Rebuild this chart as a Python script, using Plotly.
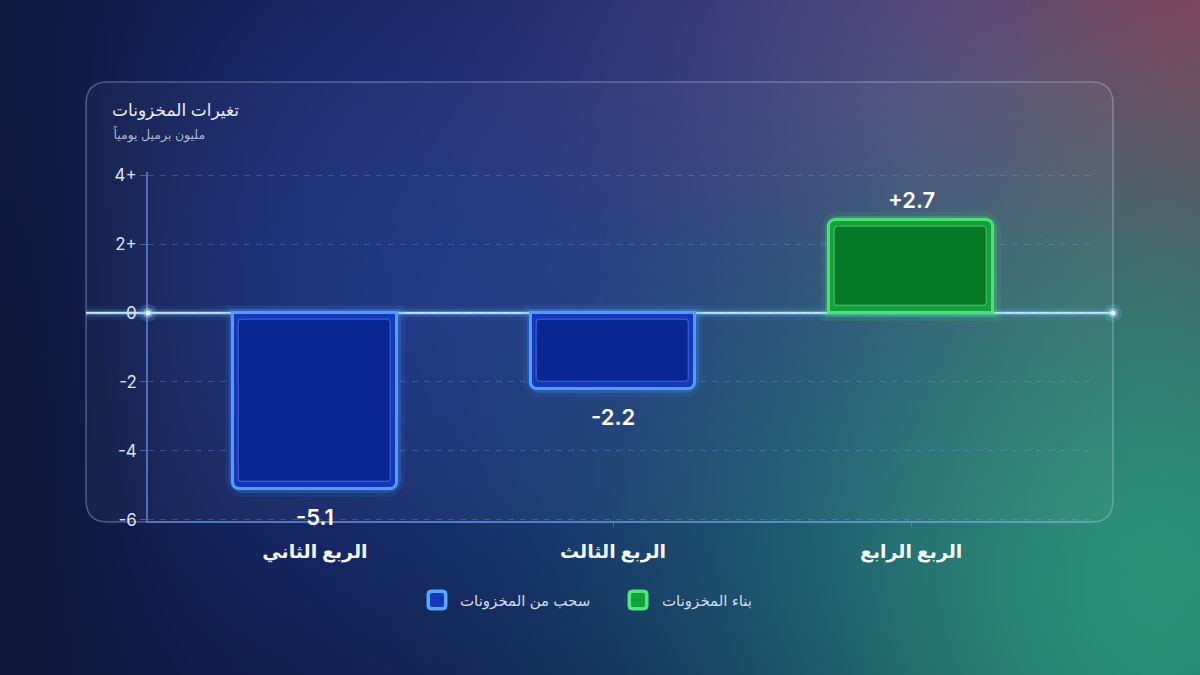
import base64
import struct
import zlib

import numpy as np
import plotly.graph_objects as go

# ---------------- data ----------------
quarters = ["الربع الثاني", "الربع الثالث", "الربع الرابع"]
changes = [-5.1, -2.2, 2.7]
y_tick_values = [-6, -4, -2, 0, 2, 4]
y_tick_labels = ["-6", "-4", "-2", "0", "2+", "4+"]
legend_labels = ["سحب من المخزونات", "بناء المخزونات"]
chart_title = "تغيرات المخزونات"
chart_subtitle = "مليون برميل يومياً"

# ---------------- styling ----------------
W_PX, H_PX = 1200, 675
FONT = "Inter, DejaVu Sans, sans-serif"
BLUE_FILL, BLUE_EDGE, BLUE_INNER = "#1437bd", "#4f9dff", "#0a2594"
GREEN_FILL, GREEN_EDGE, GREEN_INNER = "#14a03c", "#46e66e", "#077a28"
Y_RANGE = [-6.04, 4.09]
PLOT_TOP, PLOT_BOTTOM = 172, 521
PX_PER_UNIT = (PLOT_BOTTOM - PLOT_TOP) / (Y_RANGE[1] - Y_RANGE[0])


def px_x(x):
    return x / W_PX


def px_y(y):
    return 1 - y / H_PX


# ---------------- background gradient (decorative) ----------------
def make_background():
    w, h = 320, 180
    u = np.linspace(0, 1, w)[None, :]
    v = np.linspace(0, 1, h)[:, None]
    img = np.zeros((h, w, 3)) + np.array([15, 24, 58], float)

    def blob(img, cx, cy, sx, sy, color, strength):
        a = strength * np.exp(-(((u - cx) / sx) ** 2 + ((v - cy) / sy) ** 2) / 2)
        return img * (1 - a[..., None]) + np.array(color, float) * a[..., None]

    img = blob(img, 0.42, 0.42, 0.30, 0.40, (26, 50, 140), 0.9)
    img = blob(img, 0.60, 0.08, 0.20, 0.22, (40, 50, 118), 0.6)
    img = blob(img, 0.82, 0.02, 0.20, 0.35, (96, 72, 140), 0.8)
    img = blob(img, 1.02, 0.00, 0.14, 0.40, (148, 50, 84), 0.9)
    img = blob(img, 0.72, 0.80, 0.20, 0.28, (24, 80, 112), 0.6)
    img = blob(img, 0.97, 0.88, 0.22, 0.50, (46, 156, 124), 0.9)
    img = blob(img, 0.00, 0.60, 0.08, 0.60, (12, 22, 50), 0.8)
    img = np.clip(img, 0, 255).astype(np.uint8)

    raw = b"".join(b"\x00" + row.tobytes() for row in img)

    def chunk(tag, data):
        c = struct.pack(">I", len(data)) + tag + data
        return c + struct.pack(">I", zlib.crc32(tag + data) & 0xFFFFFFFF)

    png = b"\x89PNG\r\n\x1a\n"
    png += chunk(b"IHDR", struct.pack(">IIBBBBB", w, h, 8, 2, 0, 0, 0))
    png += chunk(b"IDAT", zlib.compress(raw, 9))
    png += chunk(b"IEND", b"")
    return "data:image/png;base64," + base64.b64encode(png).decode()


def rounded_rect(x0, y0, x1, y1, r):
    X, Y = px_x, px_y
    return (
        f"M{X(x0 + r)},{Y(y0)} L{X(x1 - r)},{Y(y0)} Q{X(x1)},{Y(y0)} {X(x1)},{Y(y0 + r)} "
        f"L{X(x1)},{Y(y1 - r)} Q{X(x1)},{Y(y1)} {X(x1 - r)},{Y(y1)} "
        f"L{X(x0 + r)},{Y(y1)} Q{X(x0)},{Y(y1)} {X(x0)},{Y(y1 - r)} "
        f"L{X(x0)},{Y(y0 + r)} Q{X(x0)},{Y(y0)} {X(x0 + r)},{Y(y0)} Z"
    )


sign = [1 if v > 0 else -1 for v in changes]
fill_colors = [GREEN_FILL if v > 0 else BLUE_FILL for v in changes]
edge_colors = [GREEN_EDGE if v > 0 else BLUE_EDGE for v in changes]
inner_colors = [GREEN_INNER if v > 0 else BLUE_INNER for v in changes]
glow_outer = ["rgba(70,230,120,0.10)" if v > 0 else "rgba(60,140,255,0.10)" for v in changes]
glow_inner = ["rgba(90,240,130,0.22)" if v > 0 else "rgba(80,160,255,0.22)" for v in changes]
refl_colors = ["rgba(90,230,170,0.13)" if v > 0 else "rgba(80,150,255,0.11)" for v in changes]
inner_line = ["rgba(160,255,180,0.30)" if v > 0 else "rgba(130,190,255,0.30)" for v in changes]

fig = go.Figure()

# reflections
fig.add_trace(go.Bar(
    x=quarters, y=[-s * 1.1 for s in sign], base=changes, width=0.55,
    marker=dict(color=refl_colors, line=dict(width=0), cornerradius=6),
    showlegend=False, hoverinfo="skip",
))
# glow layers
for gcol, gw in [(glow_outer, 16), (glow_inner, 8)]:
    fig.add_trace(go.Bar(
        x=quarters, y=changes, width=0.55,
        marker=dict(color="rgba(0,0,0,0)", line=dict(color=gcol, width=gw), cornerradius=10),
        showlegend=False, hoverinfo="skip",
    ))
# main bars
fig.add_trace(go.Bar(
    x=quarters, y=changes, width=0.55,
    marker=dict(color=fill_colors, line=dict(color=edge_colors, width=3), cornerradius=7),
    showlegend=False, hovertemplate="%{x}: %{y:+.1f}<extra></extra>",
))
# inner panel
fig.add_trace(go.Bar(
    x=quarters, y=[v - s * 0.40 for v, s in zip(changes, sign)],
    base=[s * 0.20 for s in sign], width=0.51,
    marker=dict(color=inner_colors, line=dict(color=inner_line, width=1.5), cornerradius=4),
    showlegend=False, hoverinfo="skip",
))

shapes = []
# card panel
shapes.append(dict(type="path", xref="paper", yref="paper", layer="below",
                   path=rounded_rect(86, 82, 1113, 522, 22),
                   fillcolor="rgba(255,255,255,0.035)",
                   line=dict(color="rgba(205,220,255,0.32)", width=1.5)))
# zero line with glow
for w, c in [(14, "rgba(90,180,255,0.06)"), (8, "rgba(110,200,255,0.12)"),
             (4, "rgba(140,215,255,0.32)"), (1.6, "rgba(210,240,255,0.95)")]:
    shapes.append(dict(type="line", xref="paper", yref="y", layer="below",
                       x0=px_x(86), x1=px_x(1113), y0=0, y1=0,
                       line=dict(color=c, width=w)))
# bright dots at zero line
for cx in (148, 1113):
    for r, c in [(9, "rgba(120,200,255,0.18)"), (5, "rgba(160,220,255,0.45)"), (2.5, "rgba(240,250,255,1)")]:
        shapes.append(dict(type="circle", xref="paper", yref="y", layer="above",
                           x0=px_x(cx - r), x1=px_x(cx + r),
                           y0=-r / PX_PER_UNIT, y1=r / PX_PER_UNIT,
                           fillcolor=c, line=dict(width=0)))

annotations = []
# title + subtitle
annotations.append(dict(text=chart_title, xref="paper", yref="paper", x=px_x(110), y=px_y(110),
                        xanchor="left", yanchor="middle", showarrow=False,
                        font=dict(family=FONT, size=17, color="#e9eef8", weight=500)))
annotations.append(dict(text=chart_subtitle, xref="paper", yref="paper", x=px_x(111), y=px_y(134),
                        xanchor="left", yanchor="middle", showarrow=False,
                        font=dict(family=FONT, size=12.5, color="#aab6d2")))
# value labels
for q, v in zip(quarters, changes):
    annotations.append(dict(text=f"{v:+.1f}", x=q, y=v, xref="x", yref="y",
                            yanchor="middle", yshift=20 if v > 0 else -28, showarrow=False,
                            font=dict(family=FONT, size=22, color="#ffffff", weight=600)))

# custom legend (marker left of text)
legend_items = [(legend_labels[0], BLUE_FILL, "#5aa6ff", 427, 458),
                (legend_labels[1], GREEN_FILL, "#4ee878", 628, 660)]
for label, fc, ec, mx, tx in legend_items:
    shapes.append(dict(type="path", xref="paper", yref="paper", layer="above",
                       path=rounded_rect(mx, 590, mx + 20, 610, 4),
                       fillcolor=ec, line=dict(color=ec, width=1)))
    shapes.append(dict(type="path", xref="paper", yref="paper", layer="above",
                       path=rounded_rect(mx + 3, 593, mx + 17, 607, 2),
                       fillcolor=fc, line=dict(width=0)))
    annotations.append(dict(text=label, xref="paper", yref="paper", x=px_x(tx), y=px_y(600),
                            xanchor="left", yanchor="middle", showarrow=False,
                            font=dict(family=FONT, size=15, color="#d3dbea")))

fig.update_layout(
    width=W_PX, height=H_PX,
    margin=dict(l=0, r=0, t=0, b=0, pad=0, autoexpand=False),
    paper_bgcolor="#101a3e", plot_bgcolor="rgba(0,0,0,0)",
    barmode="overlay", bargap=0,
    showlegend=False,
    images=[dict(source=make_background(), xref="paper", yref="paper", x=0, y=1,
                 sizex=1, sizey=1, xanchor="left", yanchor="top", sizing="stretch",
                 layer="below")],
    shapes=shapes,
    annotations=annotations,
    xaxis=dict(
        domain=[px_x(148), px_x(1090)],
        automargin=False,
        type="category", categoryorder="array", categoryarray=quarters,
        range=[-0.56, 2.6],
        showgrid=False, zeroline=False,
        showline=True, linecolor="rgba(110,160,255,0.45)", linewidth=1.5,
        ticks="outside", ticklen=4, tickcolor="rgba(110,160,255,0.5)",
        ticklabelstandoff=8,
        tickfont=dict(family=FONT, size=19, color="#f4f6fb", weight=600),
    ),
    yaxis=dict(
        domain=[px_y(PLOT_BOTTOM), px_y(PLOT_TOP)],
        automargin=False,
        range=Y_RANGE,
        tickmode="array", tickvals=y_tick_values, ticktext=y_tick_labels,
        showgrid=True, gridcolor="rgba(140,175,255,0.28)", griddash="6px,6px", gridwidth=1,
        zeroline=False,
        showline=True, linecolor="rgba(110,160,255,0.6)", linewidth=1.5,
        ticks="outside", ticklen=6, tickcolor="rgba(120,165,255,0.5)",
        tickfont=dict(family=FONT, size=17, color="#dde4f2"),
    ),
)

fig.write_html("out.html")
